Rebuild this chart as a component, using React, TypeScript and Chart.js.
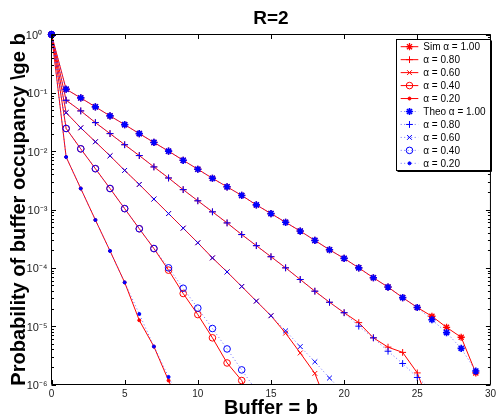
import React, { useEffect, useRef } from 'react';
import { Chart, registerables } from 'chart.js';
import { drawPoint } from 'chart.js/helpers';

Chart.register(...registerables);

// Probability of buffer occupancy >= b, for b = 0, 1, 2, ...
const simA100 = [1, 1.153e-1, 8.18e-2, 5.75e-2, 4.02e-2, 2.85e-2, 2.0e-2, 1.41e-2, 1.0e-2, 6.98e-3, 4.9e-3, 3.43e-3, 2.45e-3, 1.74e-3, 1.2e-3, 8.51e-4, 6.03e-4, 4.27e-4, 2.95e-4, 2.04e-4, 1.45e-4, 1.0e-4, 6.76e-5, 4.68e-5, 3.09e-5, 2.09e-5, 1.48e-5, 9.55e-6, 6.46e-6, 1.58e-6];
const simA080 = [1, 7.46e-2, 4.9e-2, 3.09e-2, 2.0e-2, 1.29e-2, 8.41e-3, 5.37e-3, 3.47e-3, 2.19e-3, 1.41e-3, 9.12e-4, 5.89e-4, 3.72e-4, 2.4e-4, 1.55e-4, 1.0e-4, 6.31e-5, 3.98e-5, 2.57e-5, 1.7e-5, 1.15e-5, 6.31e-6, 4.37e-6, 3.55e-6, 1.58e-6, 3.4e-7];
const simA060 = [1, 4.57e-2, 2.51e-2, 1.45e-2, 8.32e-3, 4.68e-3, 2.69e-3, 1.51e-3, 8.51e-4, 4.79e-4, 2.69e-4, 1.48e-4, 8.51e-5, 4.79e-5, 2.69e-5, 1.51e-5, 7.59e-6, 3.47e-6, 1.55e-6, 3.5e-7];
const simA040 = [1, 2.45e-2, 1.096e-2, 5.01e-3, 2.29e-3, 1.035e-3, 4.68e-4, 2.14e-4, 9.12e-5, 3.63e-5, 1.58e-5, 6.31e-6, 2.34e-6, 1.17e-6, 3.2e-7];
const simA020 = [1, 7.94e-3, 2.29e-3, 6.61e-4, 1.95e-4, 5.62e-5, 1.26e-5, 4.47e-6, 1.17e-6, 3.2e-7];

const theoA100 = [1, 1.153e-1, 8.18e-2, 5.75e-2, 4.02e-2, 2.85e-2, 2.0e-2, 1.41e-2, 1.0e-2, 6.98e-3, 4.9e-3, 3.43e-3, 2.45e-3, 1.74e-3, 1.2e-3, 8.51e-4, 6.03e-4, 4.27e-4, 2.95e-4, 2.04e-4, 1.45e-4, 1.0e-4, 6.76e-5, 4.68e-5, 3.09e-5, 2.09e-5, 1.29e-5, 7.76e-6, 4.17e-6, 1.7e-6];
const theoA080 = [1, 7.46e-2, 4.9e-2, 3.09e-2, 2.0e-2, 1.29e-2, 8.41e-3, 5.37e-3, 3.47e-3, 2.19e-3, 1.41e-3, 9.12e-4, 5.89e-4, 3.72e-4, 2.4e-4, 1.55e-4, 1.0e-4, 6.31e-5, 3.98e-5, 2.57e-5, 1.7e-5, 1.0e-5, 6.31e-6, 3.72e-6, 2.29e-6, 1.32e-6, 7.9e-7];
const theoA060 = [1, 4.57e-2, 2.51e-2, 1.45e-2, 8.32e-3, 4.68e-3, 2.69e-3, 1.51e-3, 8.51e-4, 4.79e-4, 2.69e-4, 1.48e-4, 8.51e-5, 4.79e-5, 2.69e-5, 1.51e-5, 8.32e-6, 4.47e-6, 2.45e-6, 1.29e-6, 7.1e-7];
const theoA040 = [1, 2.45e-2, 1.096e-2, 5.01e-3, 2.29e-3, 1.035e-3, 4.68e-4, 2.14e-4, 1.0e-4, 4.47e-5, 2.04e-5, 9.12e-6, 4.07e-6, 1.78e-6, 7.9e-7];
const theoA020 = [1, 7.94e-3, 2.29e-3, 6.61e-4, 1.95e-4, 5.62e-5, 1.62e-5, 4.47e-6, 1.35e-6, 4.0e-7];

const simLabels = ['Sim α = 1.00', 'α = 0.80', 'α = 0.60', 'α = 0.40', 'α = 0.20'];
const theoLabels = ['Theo α = 1.00', 'α = 0.80', 'α = 0.60', 'α = 0.40', 'α = 0.20'];

const yTickValues = [1e-6, 1e-5, 1e-4, 1e-3, 1e-2, 1e-1, 1];
const yTickLabels = ['10⁻⁶', '10⁻⁵', '10⁻⁴', '10⁻³', '10⁻²', '10⁻¹', '10⁰\u2002'];
const xTickStep = 5;
const xMax = 30;

const FONT = "'Liberation Sans', Arial, Helvetica, sans-serif";
const RED = '#ff0000';
const BLUE = '#0000ff';

const markerStyles = [
  { pointStyle: 'star', radius: 3.6, fill: false },
  { pointStyle: 'cross', radius: 3.4, fill: false },
  { pointStyle: 'crossRot', radius: 3.4, fill: false },
  { pointStyle: 'circle', radius: 3.3, fill: false },
  { pointStyle: 'circle', radius: 1.5, fill: true },
];

const toPoints = (arr: number[]) => arr.map((v, i) => ({ x: i, y: v }));

function buildDatasets() {
  const sims = [simA100, simA080, simA060, simA040, simA020];
  const theos = [theoA100, theoA080, theoA060, theoA040, theoA020];
  const ds: any[] = [];
  sims.forEach((s, i) => {
    const m = markerStyles[i];
    ds.push({
      label: simLabels[i],
      data: toPoints(s),
      borderColor: RED,
      borderWidth: 1,
      pointStyle: m.pointStyle,
      pointRadius: m.radius,
      pointBorderColor: RED,
      pointBackgroundColor: m.fill ? RED : 'rgba(0,0,0,0)',
      pointBorderWidth: i === 0 ? 1.3 : 1,
      order: 1,
      clip: { left: 10, top: 10, right: 10, bottom: 0 },
    });
  });
  theos.forEach((s, i) => {
    const m = markerStyles[i];
    ds.push({
      label: theoLabels[i],
      data: toPoints(s),
      borderColor: 'rgba(60,60,255,0.75)',
      borderWidth: 1,
      borderDash: [1, 2.5],
      pointStyle: m.pointStyle,
      pointRadius: m.radius,
      pointBorderColor: BLUE,
      pointBackgroundColor: m.fill ? BLUE : 'rgba(0,0,0,0)',
      pointBorderWidth: i === 0 ? 1.6 : 1,
      order: 0,
      clip: { left: 10, top: 10, right: 10, bottom: 0 },
    });
  });
  return ds;
}

const framePlugin = {
  id: 'frameAndLegend',
  afterDatasetsDraw(chart: any) {
    const { ctx, chartArea: a, scales } = chart;
    const ys = scales.y;
    const xs = scales.x;
    ctx.save();
    ctx.strokeStyle = '#000';
    ctx.lineWidth = 1;
    // frame
    ctx.beginPath();
    ctx.rect(a.left, a.top, a.right - a.left, a.bottom - a.top);
    ctx.stroke();
    // y major + minor ticks (inward)
    ctx.beginPath();
    for (let k = -6; k <= 0; k++) {
      const yp = Math.round(ys.getPixelForValue(Math.pow(10, k))) + 0.5;
      ctx.moveTo(a.left, yp); ctx.lineTo(a.left + 4.5, yp);
      ctx.moveTo(a.right, yp); ctx.lineTo(a.right - 4.5, yp);
      if (k < 0) {
        for (let m = 2; m <= 9; m++) {
          const yy = Math.round(ys.getPixelForValue(m * Math.pow(10, k))) + 0.5;
          ctx.moveTo(a.left, yy); ctx.lineTo(a.left + 2.5, yy);
          ctx.moveTo(a.right, yy); ctx.lineTo(a.right - 2.5, yy);
        }
      }
    }
    // x ticks top & bottom
    for (let v = 0; v <= xMax; v += xTickStep) {
      const xp = Math.round(xs.getPixelForValue(v)) + 0.5;
      ctx.moveTo(xp, a.bottom); ctx.lineTo(xp, a.bottom - 4.5);
      ctx.moveTo(xp, a.top); ctx.lineTo(xp, a.top + 4.5);
    }
    ctx.stroke();

    // legend
    const bx = 396.5, by = 39.5, bw = 94, bh = 131;
    ctx.fillStyle = '#fff';
    ctx.fillRect(bx, by, bw, bh);
    ctx.strokeStyle = '#000';
    ctx.lineWidth = 1;
    ctx.strokeRect(bx, by, bw, bh);
    ctx.beginPath();
    ctx.moveTo(bx + bw + 1, by + 1); ctx.lineTo(bx + bw + 1, by + bh + 1); ctx.lineTo(bx + 1, by + bh + 1);
    ctx.stroke();

    const dsets = chart.data.datasets;
    ctx.font = `10px ${FONT}`;
    ctx.textBaseline = 'middle';
    ctx.textAlign = 'left';
    dsets.forEach((d: any, i: number) => {
      const yy = 46.7 + i * 12.96;
      ctx.save();
      ctx.strokeStyle = d.borderColor;
      ctx.lineWidth = 1;
      ctx.setLineDash(d.borderDash || []);
      ctx.beginPath();
      ctx.moveTo(400.7, yy); ctx.lineTo(418.3, yy);
      ctx.stroke();
      ctx.setLineDash([]);
      ctx.strokeStyle = d.pointBorderColor;
      ctx.fillStyle = d.pointBackgroundColor;
      ctx.lineWidth = d.pointBorderWidth;
      drawPoint(ctx, { pointStyle: d.pointStyle, radius: d.pointRadius, borderWidth: d.pointBorderWidth, rotation: 0 } as any, 409.5, yy);
      ctx.restore();
      ctx.fillStyle = '#000';
      ctx.fillText(d.label, 423.3, yy + 0.5);
    });
    ctx.restore();
  },
};

export default function App() {
  const ref = useRef<HTMLCanvasElement>(null);
  useEffect(() => {
    document.body.style.margin = '0';
    const canvas = ref.current!;
    const chart = new Chart(canvas, {
      type: 'line',
      data: { datasets: buildDatasets() },
      options: {
        responsive: false,
        animation: false,
        devicePixelRatio: 1,
        layout: { autoPadding: false, padding: { left: 0, right: 3.5, top: 0, bottom: 0 } },
        plugins: {
          legend: { display: false },
          tooltip: { enabled: false },
          title: {
            display: true,
            text: 'R=2',
            fullSize: false,
            color: '#000',
            font: { family: FONT, size: 19, weight: 'bold' },
            padding: { top: 7, bottom: 4.7 },
          },
        },
        scales: {
          x: {
            type: 'linear',
            min: 0,
            max: xMax,
            ticks: { stepSize: xTickStep, color: '#222', font: { family: FONT, size: 10 }, padding: 4, maxRotation: 0 },
            grid: { display: false, drawTicks: false },
            border: { display: false },
            title: {
              display: true,
              text: 'Buffer = b',
              color: '#000',
              font: { family: FONT, size: 20, weight: 'bold' },
              padding: { top: 0, bottom: -2 },
            },
            afterFit: (s: any) => { s.height = 33.5; },
          },
          y: {
            type: 'logarithmic',
            min: 1e-6,
            max: 1,
            afterBuildTicks: (s: any) => { s.ticks = yTickValues.map((v) => ({ value: v })); },
            ticks: {
              autoSkip: false,
              color: '#222',
              font: { family: FONT, size: 11 },
              padding: 4,
              labelOffset: 1.5,
              callback: (_v: any, i: number) => yTickLabels[i],
            },
            grid: { display: false, drawTicks: false },
            border: { display: false },
            title: {
              display: true,
              text: 'Probability of buffer occupancy \\ge b',
              color: '#000',
              font: { family: FONT, size: 20, weight: 'bold' },
              padding: { top: 7.5, bottom: 0 },
            },
            afterFit: (s: any) => { s.width = 51.5; },
          },
        },
      } as any,
      plugins: [framePlugin],
    });
    return () => chart.destroy();
  }, []);
  return (
    <div style={{ width: 500, height: 418 }}>
      <canvas ref={ref} width={500} height={418} style={{ display: 'block' }} />
    </div>
  );
}
